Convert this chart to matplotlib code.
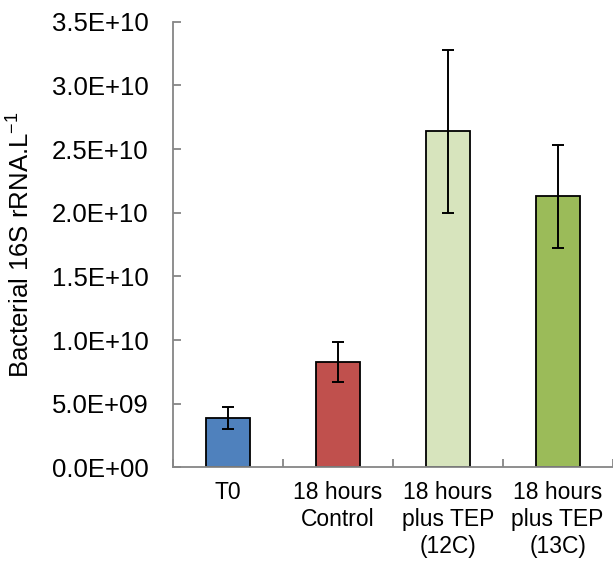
import numpy as np
import matplotlib
matplotlib.use("Agg")
import matplotlib.pyplot as plt

categories = ["T0", "18 hours\nControl", "18 hours\nplus TEP\n(12C)", "18 hours\nplus TEP\n(13C)"]
values = [3.91e9, 8.26e9, 2.641e10, 2.133e10]
err_low = [3.00e9, 6.69e9, 1.998e10, 1.723e10]
err_high = [4.77e9, 9.85e9, 3.277e10, 2.535e10]
colors = ["#4F81BD", "#C0504D", "#D7E4BD", "#9BBB59"]
yticks = [0, 5e9, 1e10, 1.5e10, 2e10, 2.5e10, 3e10, 3.5e10]

plt.rcParams["font.family"] = ["Liberation Sans", "DejaVu Sans"]

fig = plt.figure(figsize=(6.13, 5.67), dpi=100)
ax = fig.add_axes([0.2827, 0.1755, 0.7165, 0.7862])

x = np.arange(len(categories))
vals = np.array(values)
yerr = np.array([vals - np.array(err_low), np.array(err_high) - vals])
ax.bar(x, vals, width=0.4, color=colors, edgecolor="black", linewidth=1.3, zorder=2)
ax.errorbar(x, vals, yerr=yerr, fmt="none", ecolor="black", elinewidth=1.4,
            capsize=4.6, capthick=1.4, zorder=3)

ax.set_xlim(-0.5, len(categories) - 0.5)
ax.set_ylim(0, 3.5e10)
ax.set_yticks(yticks)
ax.set_yticklabels([f"{v:.1E}" for v in yticks], fontsize=18.5)
ax.set_xticks(x)
ax.set_xticklabels(categories, fontsize=16.5, linespacing=1.2)
ax.set_xticks(np.arange(len(categories) + 1) - 0.5, minor=True)
ax.tick_params(axis="x", which="major", length=0, pad=10)
ax.tick_params(axis="x", which="minor", direction="in", length=6, color="#868686", width=1.3)
ax.tick_params(axis="y", direction="in", length=6, color="#868686", width=1.3, pad=18)

for side in ["top", "right"]:
    ax.spines[side].set_visible(False)
for side in ["left", "bottom"]:
    ax.spines[side].set_color("#868686")
    ax.spines[side].set_linewidth(1.3)

ax.set_ylabel("Bacterial 16S rRNA.L$^{\\mathregular{-1}}$", fontsize=18.5, labelpad=13)

fig.savefig("out.png", dpi=100)
